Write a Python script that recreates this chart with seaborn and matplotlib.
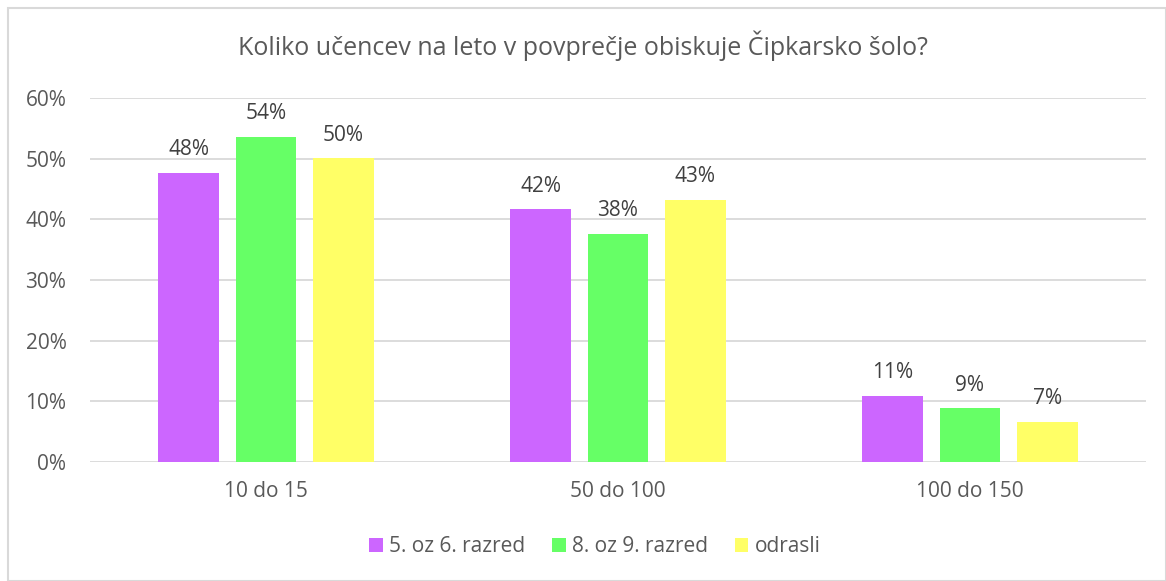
import pandas as pd
import matplotlib.pyplot as plt
import seaborn as sns
from matplotlib.patches import Rectangle

# podatki
kategorije = ["10 do 15", "50 do 100", "100 do 150"]
skupine = ["5. oz 6. razred", "8. oz 9. razred", "odrasli"]
razred_5_6 = [0.477, 0.417, 0.109]
razred_8_9 = [0.536, 0.376, 0.089]
odrasli = [0.501, 0.432, 0.066]
barve = ["#CC66FF", "#66FF66", "#FFFF66"]

df = pd.DataFrame({
    "kategorija": kategorije * 3,
    "skupina": [skupine[0]] * 3 + [skupine[1]] * 3 + [skupine[2]] * 3,
    "delez": razred_5_6 + razred_8_9 + odrasli,
})

sns.set_style("white")
plt.rcParams['font.family'] = ['Open Sans', 'DejaVu Sans']

fig = plt.figure(figsize=(11.66, 5.81), dpi=100)
ax = fig.add_axes([90 / 1166, 119 / 581, 1056 / 1166, 364 / 581])

sns.barplot(data=df, x="kategorija", y="delez", hue="skupina",
            palette=barve, saturation=1, width=0.658, gap=0.21,
            linewidth=0, ax=ax, zorder=3)

for cont in ax.containers:
    ax.bar_label(cont, labels=[f"{v.get_height() * 100:.0f}%" for v in cont],
                 padding=9, fontsize=15, color="#404040")

ax.set_ylim(0, 0.6)
ax.set_xlim(-0.5, 2.5)
ax.set_yticks([0, 0.1, 0.2, 0.3, 0.4, 0.5, 0.6])
ax.set_yticklabels([f"{t}%" for t in range(0, 70, 10)])
ax.yaxis.grid(True, color="#D9D9D9", linewidth=1.3, zorder=0)
for s in ax.spines.values():
    s.set_visible(False)
ax.tick_params(axis="both", length=0, labelsize=15, colors="#595959")
ax.tick_params(axis="y", pad=17)
ax.tick_params(axis="x", pad=14)
ax.set_xlabel("")
ax.set_ylabel("")

fig.text(0.5, 1 - 46 / 581, "Koliko učencev na leto v povprečje obiskuje Čipkarsko šolo?",
         ha="center", va="center", fontsize=18, color="#595959")

ax.legend(loc="center", bbox_to_anchor=(0.478, -0.232), ncol=3, frameon=False,
          fontsize=15, handlelength=0.65, handleheight=0.65, handletextpad=0.3,
          columnspacing=1.3, labelcolor="#595959")

# okvir grafikona
fig.patches.append(Rectangle((8 / 1166, 0), 1 - 8 / 1166, 1 - 8 / 581,
                             transform=fig.transFigure, fill=False,
                             edgecolor="#D9D9D9", linewidth=1.5))

fig.savefig("out.png", dpi=100)
